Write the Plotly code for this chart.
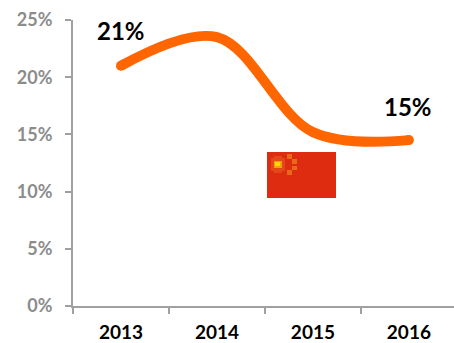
import plotly.graph_objects as go

years = ["2013", "2014", "2015", "2016"]
share = [21.0, 23.5, 15.2, 14.5]
labels = ["21%", "", "", "15%"]
y_ticks = [0, 5, 10, 15, 20, 25]
y_labels = ["0%", "5%", "10%", "15%", "20%", "25%"]

W, H = 454, 343
ML, MR, MT, MB = 73, 0, 20, 37
FONT = "Lato"

# flag decoration, in page pixels: x0, y0, x1, y1, colour
flag_blocks = [
    (267, 152, 336, 198, "#dd2c10"),
    (271, 158, 285, 171, "#e2481a"),
    (274, 156, 282, 173, "#e2481a"),
    (274, 161, 282, 168, "#f0a010"),
    (275, 162, 280, 166, "#ffd800"),
    (287, 154, 292, 159, "#e86a18"),
    (292, 159, 297, 164, "#e86a18"),
    (292, 166, 297, 170, "#e86a18"),
    (287, 170, 292, 175, "#e86a18"),
]


def px(x):
    return (x - ML) / (W - ML - MR)


def py(y):
    return 1 - (y - MT) / (H - MT - MB)


shapes = [
    dict(type="rect", xref="paper", yref="paper", x0=px(a), y0=py(b), x1=px(c), y1=py(d),
         fillcolor=col, line_width=0, layer="below")
    for a, b, c, d, col in flag_blocks
]

fig = go.Figure(go.Scatter(
    x=years, y=share, mode="lines+markers",
    line=dict(color="#ff6600", width=10, shape="spline", smoothing=1.0),
    marker=dict(color="#ff6600", size=[10, 0, 0, 10], opacity=1, line_width=0),
    hoverinfo="skip", cliponaxis=False,
))

shifts = {"21%": (0, 35), "15%": (-1, 34)}
annotations = [
    dict(x=i, y=v, text=t, showarrow=False, xshift=shifts[t][0], yshift=shifts[t][1],
         font=dict(family=FONT, size=24, color="#000000", weight="bold"))
    for i, (v, t) in enumerate(zip(share, labels)) if t
]

fig.update_layout(
    width=W, height=H,
    margin=dict(l=ML, r=MR, t=MT, b=MB, autoexpand=False),
    paper_bgcolor="white", plot_bgcolor="white",
    showlegend=False, shapes=shapes, annotations=annotations,
    xaxis=dict(
        type="category", range=[-0.5, 3.47], tickson="boundaries", automargin=False,
        ticks="outside", ticklen=6, tickwidth=1.5, tickcolor="#a0a0a0",
        showline=True, linecolor="#a0a0a0", linewidth=2, showgrid=False, zeroline=False,
        ticklabelstandoff=8,
        tickfont=dict(family=FONT, size=19, color="#000000", weight="bold"),
    ),
    yaxis=dict(
        range=[0, 25], tickmode="array", tickvals=y_ticks, ticktext=y_labels, automargin=False,
        ticks="outside", ticklen=6, tickwidth=1.5, tickcolor="#a0a0a0",
        showline=True, linecolor="#a0a0a0", linewidth=2, showgrid=False, zeroline=False,
        ticklabelstandoff=9,
        tickfont=dict(family=FONT, size=18, color="#8c8c8c", weight="bold"),
    ),
)

fig.write_html("out.html", config=dict(displayModeBar=False),
               post_script="document.body.style.margin='0';document.body.style.overflow='hidden';")
